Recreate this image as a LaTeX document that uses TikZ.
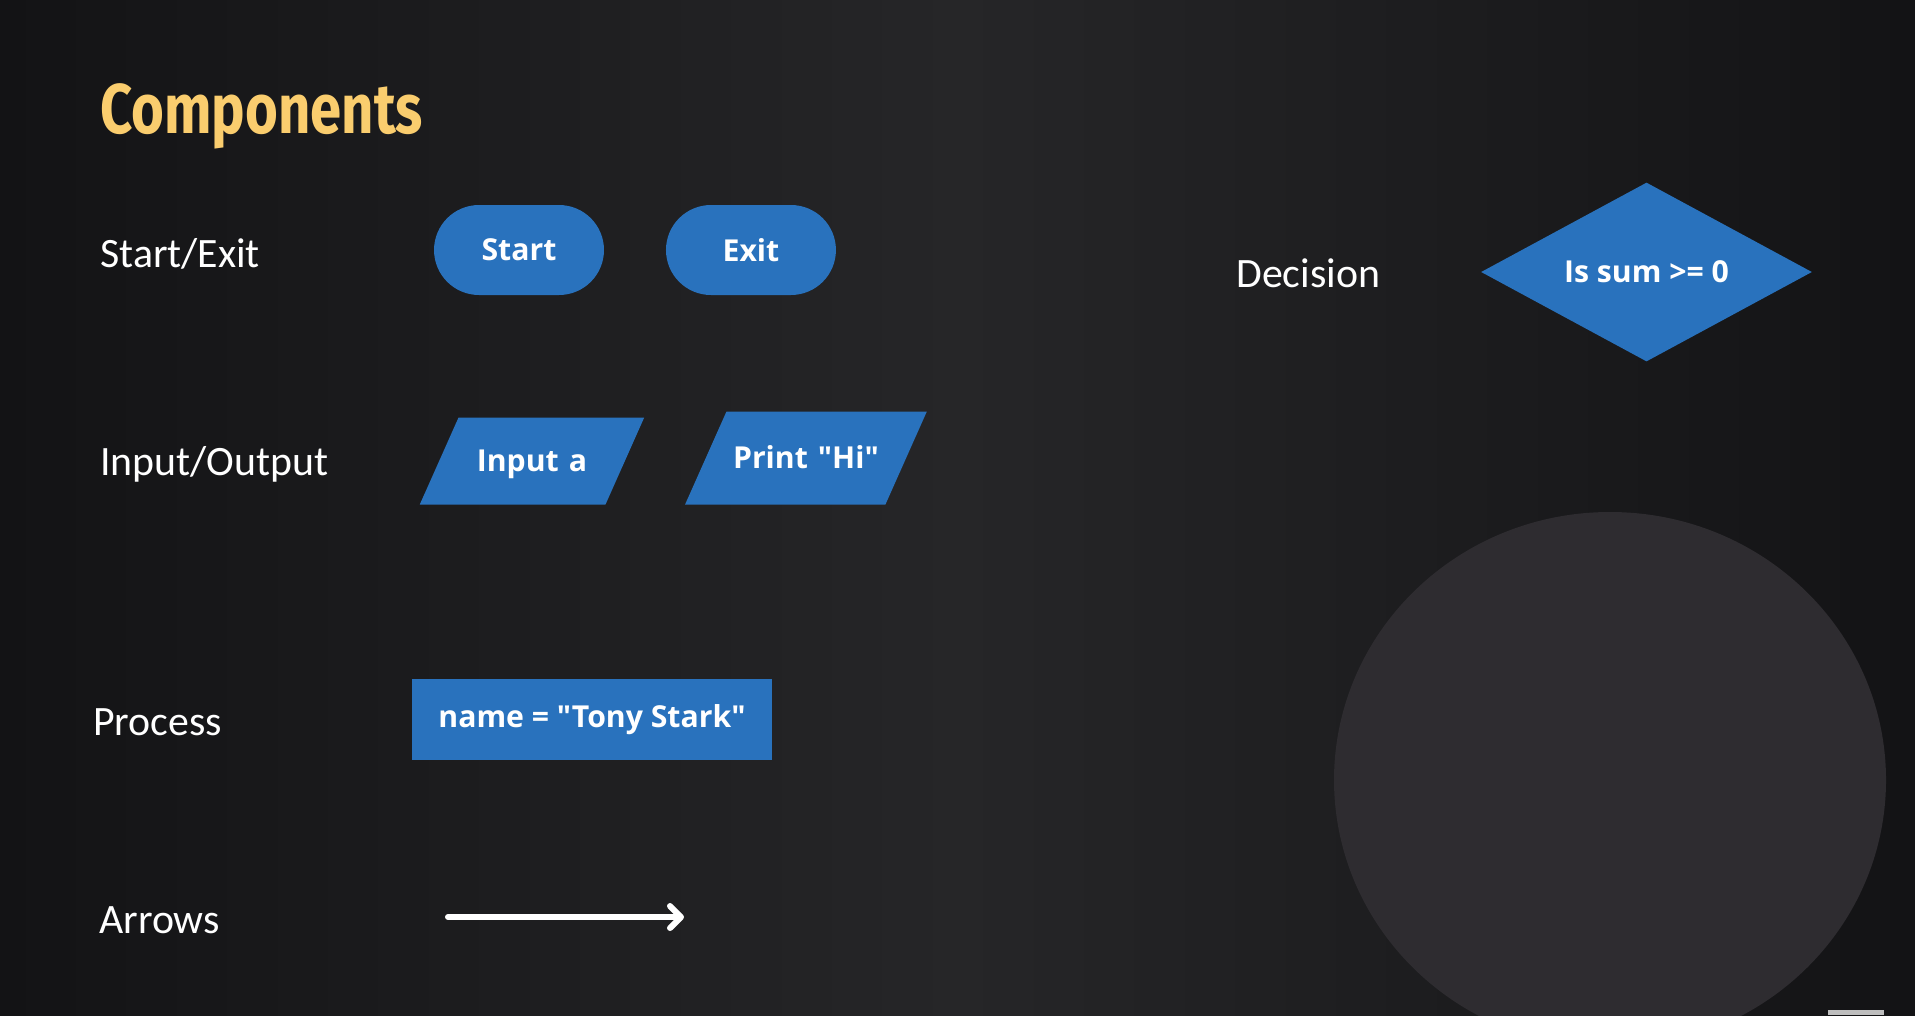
\documentclass[tikz,border=0pt]{standalone}
\usepackage{fontspec}
\setmainfont{Carlito}
\newfontfamily\titlefont[FakeStretch=0.8]{Fira Sans}
\newfontfamily\shapefont{Open Sans}
\usetikzlibrary{arrows.meta, positioning, shapes.geometric}

\definecolor{bgedge}{RGB}{19,19,21}
\definecolor{bgcenter}{RGB}{38,38,40}
\definecolor{flowblue}{RGB}{41,114,189}
\definecolor{titleyellow}{RGB}{250,205,110}
\definecolor{discgray}{RGB}{46,44,48}
\definecolor{bargray}{RGB}{190,190,190}

\begin{document}
\begin{tikzpicture}[x=0.02cm, y=-0.02cm, node distance=4.64cm,
    label text/.style={text=white, font=\fontsize{23.8}{28}\selectfont, anchor=base west, inner sep=0pt},
    flow shape/.style={fill=flowblue, text=white, font=\shapefont\bfseries\fontsize{17.2}{20}\selectfont, inner sep=0pt},
    terminal/.style={flow shape, rectangle, rounded corners=0.9cm, minimum width=3.4cm, minimum height=1.8cm},
    io/.style={flow shape, trapezium, trapezium left angle=66, trapezium right angle=114, inner xsep=0pt, align=center, text height=0.5cm, text depth=0.08cm},
    process/.style={flow shape, rectangle, minimum width=7.2cm, minimum height=1.62cm},
    decision/.style={flow shape, diamond, aspect=1.85, minimum width=6.62cm, minimum height=3.58cm}]

    % Background
    \useasboundingbox (0,0) rectangle (1915,1015);
    \clip (0,0) rectangle (1915,1015);
    \shade[left color=bgedge, right color=bgedge, middle color=bgcenter] (0,0) rectangle (1915,1015);
    \fill[discgray] (1610,780) ellipse [x radius=276, y radius=268];
    \fill[bargray] (1828,1010) rectangle (1884,1015);

    % Title and labels
    \node[anchor=base west, text=titleyellow, inner sep=0pt, font=\titlefont\bfseries\fontsize{40}{48}\selectfont] (title) at (100,133) {Components};
    \node[label text] (startlabel) at (100,267) {Start/Exit};
    \node[label text] (iolabel) at (100,475) {Input/Output};
    \node[label text] (processlabel) at (93,735) {Process};
    \node[label text] (arrowlabel) at (99,933) {Arrows};
    \node[label text] (decisionlabel) at (1236,287) {Decision};

    % Shapes
    \node[terminal] (start) at (519,250) {Start};
    \node[terminal] (exit) [right of=start] {Exit};
    \node[io, text width=2.94cm, inner ysep=0.58cm] (input) at (532,461) {Input a};
    \node[io, text width=3.18cm, inner ysep=0.64cm] (print) [right of=input, node distance=5.48cm, yshift=0.06cm] {Print "Hi"};
    \node[process] (assign) at (592,719.5) {name = "Tony Stark"};
    \node[decision] (check) at (1646.5,272) {Is sum >= 0};

    % Arrow
    \coordinate (arrowtail) at (448,917);
    \coordinate (arrowtip) at (684,917);
    \draw[white, line width=0.12cm, line cap=round, -{Straight Barb[length=0.22cm, width=0.44cm, round]}] (arrowtail) -- (arrowtip);

\end{tikzpicture}
\end{document}
